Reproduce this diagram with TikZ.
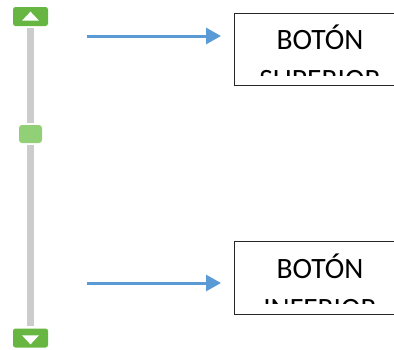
\documentclass[tikz,border=0pt]{standalone}
\usepackage{fontspec}
\setmainfont{Carlito}
\usepackage{xcolor}
\usetikzlibrary{arrows.meta,shapes.geometric}
\definecolor{btngreen}{RGB}{104,182,66}
\definecolor{thumbgreen}{RGB}{146,208,120}
\definecolor{trackgray}{RGB}{204,204,204}
\definecolor{arrowblue}{RGB}{91,155,213}
\tikzset{
    btn/.style={fill=btngreen,rounded corners=2.5pt,minimum width=35pt,minimum height=19pt,inner sep=0pt},
    thumb/.style={fill=thumbgreen,rounded corners=3pt,minimum width=23pt,minimum height=18pt,inner sep=0pt},
    track/.style={line width=7pt,color=trackgray,shorten >=2pt,shorten <=2pt},
    arrowtri/.style={fill=white,isosceles triangle,isosceles triangle stretches,minimum width=17pt,minimum height=9pt,inner sep=0pt},
    pointer/.style={line width=3pt,color=arrowblue,-{Triangle[length=15pt,width=16pt]}},
    labelbox/.style={draw=black!85,line width=1.2pt,fill=white,minimum width=170pt,anchor=north west,inner sep=0pt},
    labeltext/.style={font=\fontsize{29.5}{40}\selectfont,align=center,anchor=north,inner sep=0pt}
}
\begin{document}
\begin{tikzpicture}[line cap=butt,x=1pt,y=-1pt]
    \useasboundingbox (0,0) rectangle (394,349);
    \clip (0,0) rectangle (394,349);
    % scrollbar
    \node [btn] (btnup) at (30.5,16.5) {};
    \node [btn] (btndown) at (30.5,338) {};
    \node [thumb] (thumb) at (30.5,134) {};
    \draw [track] (btnup.south) -- (thumb.north);
    \draw [track] (thumb.south) -- (btndown.north);
    \node [arrowtri,shape border rotate=90] (triup) at (30.5,17) {};
    \node [arrowtri,shape border rotate=-90] (tridown) at (30.5,339) {};
    % upper label
    \node [labelbox,minimum height=72pt] (boxup) at (233.5,13) {};
    \begin{scope}
        \clip (233.5,13) rectangle (394,75);
        \node [labeltext] (textup) at (320,25) {BOTÓN\\SUPERIOR};
    \end{scope}
    % lower label
    \node [labelbox,minimum height=72.5pt] (boxdown) at (233.5,241) {};
    \begin{scope}
        \clip (233.5,241) rectangle (394,303);
        \node [labeltext] (textdown) at (320,254) {BOTÓN\\INFERIOR};
    \end{scope}
    % arrows
    \coordinate (startup) at (87,36);
    \coordinate (endup) at (221,36);
    \coordinate (startdown) at (87,283);
    \coordinate (enddown) at (221,283);
    \draw [pointer] (startup) -- (endup);
    \draw [pointer] (startdown) -- (enddown);
\end{tikzpicture}
\end{document}
